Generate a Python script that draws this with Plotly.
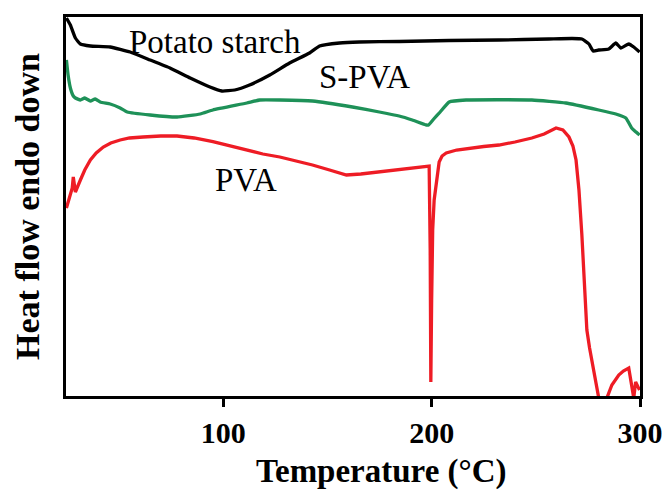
import plotly.graph_objects as go

# Potato starch
t_starch = [24.7, 26.6, 29.0, 31.4, 36.2, 45.7, 55.3, 64.9, 74.4, 84.1, 93.6, 99.3, 105.5, 112.6,
            122.3, 131.8, 141.4, 146.2, 155.8, 165.3, 184.4, 208.4, 232.3, 256.2, 267.4, 272.1,
            275.5, 277.5, 280.2, 285.0, 288.4, 290.8, 294.6, 297.0, 299.8]
h_starch = [380, 373, 360, 354, 352, 351, 346, 338, 330, 320, 311, 307, 308, 313,
            323, 335, 345, 352, 355, 356, 356.5, 357.5, 358, 359, 359.5, 359,
            354, 347, 348, 349, 355, 350, 354, 351, 346]

# S-PVA
t_spva = [24.7, 25.5, 26.6, 28.0, 29.0, 31.4, 33.5, 36.2, 38.5, 40.9, 45.7, 50.5, 53.9, 64.9, 77.8,
          88.9, 95.0, 111.3, 117.5, 127.1, 142.8, 162.0, 174.9, 184.4, 190.7, 197.4, 198.5,
          201.0, 204.1, 208.4, 216.5, 248.1, 264.4, 280.2, 288.4, 293.2, 296.0, 297.5, 299.8]
h_spva = [338, 323, 310, 302, 300, 298, 300, 297, 299, 296, 294, 290, 286, 283, 281,
          284, 288, 295, 298, 298, 297, 291, 286, 282, 278, 273, 273,
          279, 286, 296, 298, 298, 295, 288, 284, 280, 270, 267, 263]

# PVA
t_pva = [24.7, 26.0, 27.5, 28.0, 29.0, 31.4, 33.5, 36.2, 39.0, 42.4, 46.0, 50.5, 55.0, 61.5, 70.0,
         77.8, 86.0, 95.0, 103.0, 111.3, 119.0, 127.1, 135.0, 142.8, 151.0, 159.1, 166.0, 174.9,
         186.0, 197.4, 198.8, 199.3, 199.6, 200.0, 200.5, 201.2, 202.2, 203.6, 205.0,
         207.0, 212.0, 218.0, 225.0, 232.3, 240.0, 248.1, 254.0, 259.7, 263.0, 265.9, 267.8,
         269.3, 270.7, 272.1, 273.1, 274.5, 275.8, 276.9, 278.5,
         280.2, 284.1, 286.5, 289.8, 292.0, 294.6, 296.0, 297.0, 297.9, 299.8]
h_pva = [190, 200, 210, 221, 206, 218, 228, 238, 245, 251, 255, 258, 260, 261, 262,
         262, 260, 256.3, 252, 248, 244, 241, 237, 233, 228, 223, 224, 226,
         229, 231, 232, 148, 16, 98, 168, 198, 215, 236, 242,
         245, 248, 250, 251.5, 253, 256, 260, 264, 270, 268, 261, 252,
         238, 208, 163, 128, 68, 50, 38, 18,
         0, 0, 13, 23, 27, 30, 13, 0, 16, 8]

x_ticks = [100, 200, 300]
labels = ["Potato starch", "S-PVA", "PVA"]
label_t = [96, 168, 111]
label_h = [356, 321, 218]

serif = "Liberation Serif"
fig = go.Figure()
fig.add_trace(go.Scatter(x=t_starch, y=h_starch, mode="lines",
                         line=dict(color="#000000", width=3.3, shape="spline", smoothing=0.4)))
fig.add_trace(go.Scatter(x=t_spva, y=h_spva, mode="lines",
                         line=dict(color="#1e9158", width=3.3, shape="spline", smoothing=0.4)))
fig.add_trace(go.Scatter(x=t_pva, y=h_pva, mode="lines",
                         line=dict(color="#ee1c25", width=3.3)))

for lab, lt, lh in zip(labels, label_t, label_h):
    fig.add_annotation(x=lt, y=lh, text=lab, showarrow=False,
                       font=dict(family=serif, size=33, color="black"))

fig.add_annotation(xref="paper", yref="paper", x=0.549, y=-0.146, xanchor="center", yanchor="top",
                   text="Temperature (°C)", showarrow=False,
                   font=dict(family=serif, size=33, color="black", weight="bold"))

fig.update_layout(
    width=665, height=491,
    margin=dict(l=66, r=25, t=17, b=95),
    paper_bgcolor="white", plot_bgcolor="white",
    showlegend=False,
    xaxis=dict(range=[24.5, 300], tickvals=x_ticks, ticks="outside", ticklen=8, tickwidth=3,
               tickcolor="black", showline=True, linewidth=3, linecolor="black", mirror=True,
               showgrid=False, zeroline=False, automargin=False,
               tickfont=dict(family=serif, size=30, color="black", weight="bold")),
    yaxis=dict(range=[2, 381], showticklabels=False, ticks="", showline=True, linewidth=3,
               linecolor="black", mirror=True, showgrid=False, zeroline=False, automargin=False,
               title=dict(text="Heat flow endo down", standoff=14,
                          font=dict(family=serif, size=34, color="black", weight="bold"))),
)
fig.write_html("out.html")
